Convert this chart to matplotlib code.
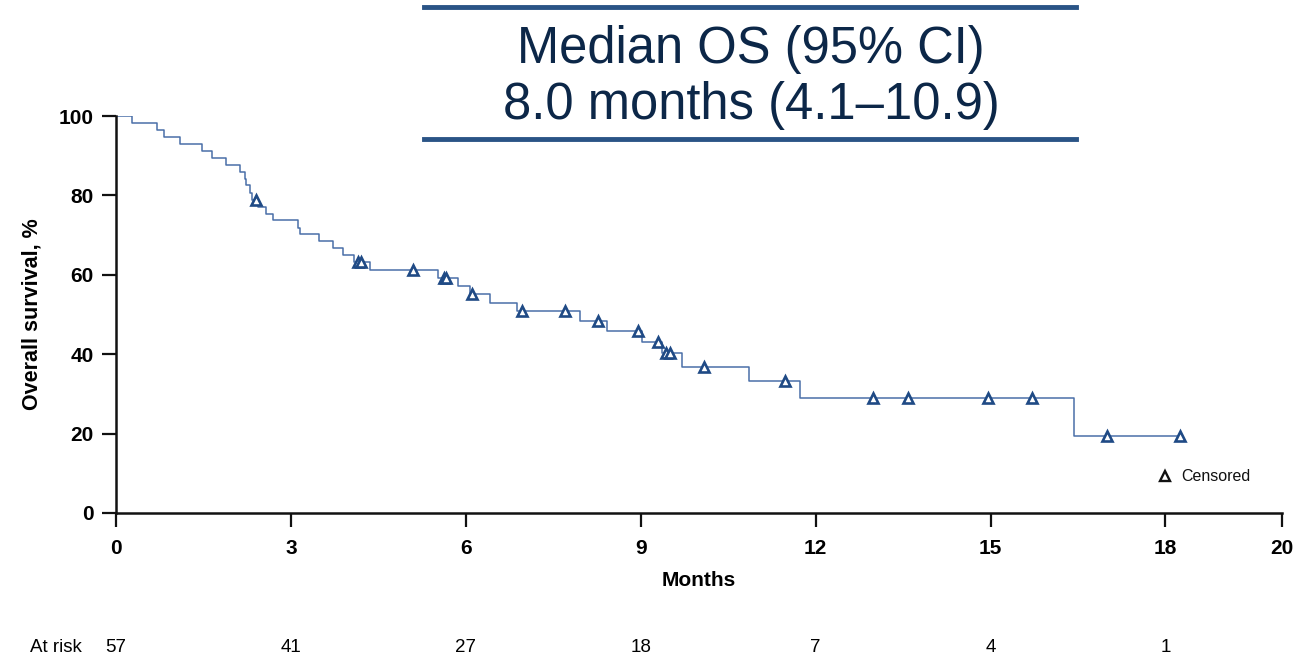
import matplotlib
matplotlib.use("Agg")
import matplotlib.pyplot as plt
from matplotlib.lines import Line2D

plt.rcParams['font.family'] = ['Liberation Sans', 'DejaVu Sans']

# ---- data ----
# step (event) times in months and survival (%) after each step
event_times = [0.27, 0.70, 0.82, 1.09, 1.48, 1.64, 1.88, 2.13, 2.21, 2.23, 2.30, 2.34,
               2.43, 2.57, 2.70, 3.13, 3.15, 3.49, 3.72, 3.89, 4.08, 4.35, 5.53, 5.86,
               6.08, 6.41, 6.88, 7.96, 8.42, 9.03, 9.37, 9.70, 10.85, 11.74, 16.44]
surv_after = [98.2, 96.5, 94.7, 93.0, 91.2, 89.5, 87.7, 86.0, 84.2, 82.5, 80.7, 78.9,
              77.2, 75.4, 73.7, 71.9, 70.2, 68.4, 66.7, 64.9, 63.1, 61.2, 59.2, 57.2,
              55.1, 52.9, 50.8, 48.4, 45.8, 43.0, 40.2, 36.9, 33.2, 29.0, 19.4]
last_followup = 18.25

censor_times = [2.40, 4.15, 4.20, 5.10, 5.62, 5.66, 6.11, 6.97, 7.70, 8.26, 8.96, 9.30,
                9.44, 9.50, 10.09, 11.47, 12.99, 13.58, 14.96, 15.72, 17.00, 18.25]

risk_times = [0, 3, 6, 9, 12, 15, 18]
at_risk = [57, 41, 27, 18, 7, 4, 1]

x_ticks = [0, 3, 6, 9, 12, 15, 18, 20]
y_ticks = [0, 20, 40, 60, 80, 100]

title_lines = ["Median OS (95% CI)", "8.0 months (4.1\u201310.9)"]

# ---- build step curve ----
xs = [0.0]
ys = [100.0]
for t, s in zip(event_times, surv_after):
    xs.append(t)
    ys.append(s)
xs.append(last_followup)
ys.append(surv_after[-1])


def surv_at(t):
    s = 100.0
    for et, sv in zip(event_times, surv_after):
        if et <= t:
            s = sv
    return s


censor_y = [surv_at(t) for t in censor_times]

W, H = 1314, 657
fig = plt.figure(figsize=(W / 100, H / 100), dpi=100)
ax = fig.add_axes([116 / W, 1 - 513 / H, (1282 - 116) / W, (513 - 116) / H])

line_col = '#4a6fa8'
mark_col = '#1f4a85'
ax.step(xs, ys, where='post', color=line_col, lw=1.1, zorder=2)
ax.plot(censor_times, censor_y, linestyle='none', marker='^', ms=7.5,
        mfc='white', mec=mark_col, mew=1.9, zorder=3)

ax.set_xlim(0, 20)
ax.set_ylim(0, 100)
ax.set_xticks(x_ticks)
ax.set_yticks(y_ticks)
for side in ['top', 'right']:
    ax.spines[side].set_visible(False)
for side in ['left', 'bottom']:
    ax.spines[side].set_linewidth(1.8)
    ax.spines[side].set_color('#111111')
ax.tick_params(axis='both', direction='out', length=10, width=1.6, color='#111111',
               labelsize=15)
ax.tick_params(axis='y', pad=6)
ax.tick_params(axis='x', pad=9)
for lab in ax.get_xticklabels() + ax.get_yticklabels():
    lab.set_fontweight('bold')

ax.set_xlabel('Months', fontsize=15, fontweight='bold', labelpad=9)
ax.set_ylabel('Overall survival, %', fontsize=15.5, fontweight='bold', labelpad=12)

# legend (censored marker)
ax.plot([17.99], [9.3], linestyle='none', marker='^', ms=6.5, mfc='white',
        mec='#111111', mew=1.7, clip_on=False)
ax.text(18.28, 9.3, 'Censored', fontsize=11.5, va='center', ha='left', color='#111111')

# at-risk row
risk_y = 1 - 648 / H
fig.text(56 / W, risk_y, 'At risk', fontsize=13.5, ha='center', va='center')
for t, n in zip(risk_times, at_risk):
    xfig = (116 + t * (1282 - 116) / 20) / W
    fig.text(xfig, risk_y, str(n), fontsize=13.5, ha='center', va='center')

# title box
box_col = '#2a5486'
fig.add_artist(Line2D([424 / W, 1076 / W], [1 - 7 / H, 1 - 7 / H], color=box_col, lw=3.5))
fig.add_artist(Line2D([424 / W, 1076 / W], [1 - 139 / H, 1 - 139 / H], color=box_col, lw=3.5))
fig.text(751 / W, 1 - 49 / H, title_lines[0], fontsize=36.5, ha='center', va='center',
         color='#0c2748')
fig.text(751 / W, 1 - 105 / H, title_lines[1], fontsize=36.5, ha='center', va='center',
         color='#0c2748')

fig.savefig('out.png', dpi=100)
